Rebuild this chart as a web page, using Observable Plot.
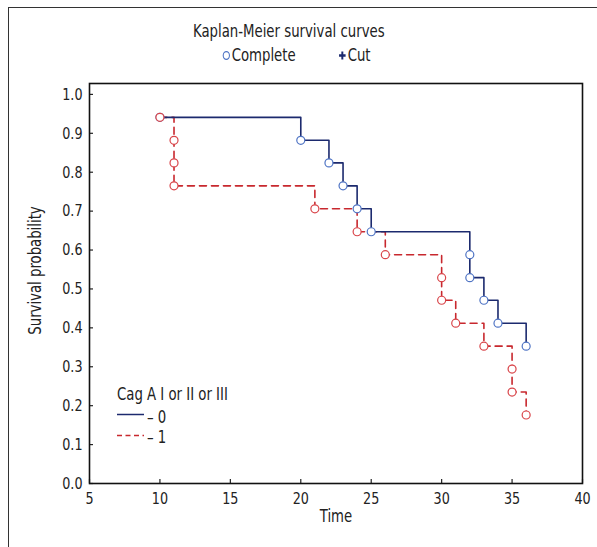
<!DOCTYPE html>
<html><head><meta charset="utf-8">
<script src="https://cdn.jsdelivr.net/npm/d3@7"></script>
<script src="https://cdn.jsdelivr.net/npm/@observablehq/plot@0.6"></script>
<style>
body{margin:0;background:#fff;font-family:"DejaVu Sans Condensed","DejaVu Sans",sans-serif;color:#222;}
#wrap{position:relative;width:597px;height:547px;overflow:hidden;}
.border{position:absolute;left:8px;top:7px;width:620px;height:600px;border-left:1.5px solid #333;border-top:1.5px solid #333;}
.t{position:absolute;font-size:18px;white-space:nowrap;line-height:1;transform:scaleX(0.82);transform-origin:0 0;}
.s{position:absolute;}
#chart{position:absolute;left:0;top:70px;}
</style></head>
<body><div id="wrap">
<div class="border"></div>
<div id="chart"></div>
<div class="t" style="left:193px;top:22px;">Kaplan-Meier survival curves</div>
<div class="t" style="left:221px;top:46px;"><svg width="13" height="13" style="vertical-align:-1px"><circle cx="6.5" cy="6.5" r="3.8" fill="none" stroke="#4f74c4" stroke-width="1.3"/></svg>Complete</div>
<div class="t" style="left:337px;top:46px;"><svg width="13" height="13" style="vertical-align:-1px"><path d="M6.5,2.5V10.5M2.5,6.5H10.5" stroke="#1c2a6e" stroke-width="2.4"/></svg>Cut</div>
<div class="t" style="left:117px;top:385px;">Cag A I or II or III</div>
<svg class="s" style="left:117px;top:413px;" width="27" height="3"><line x1="0" y1="1.5" x2="27" y2="1.5" stroke="#1c2a6e" stroke-width="1.5"/></svg>
<div class="t" style="left:147px;top:408px;">– 0</div>
<svg class="s" style="left:117px;top:434px;" width="27" height="3"><line x1="0" y1="1.5" x2="27" y2="1.5" stroke="#c8282e" stroke-width="1.5" stroke-dasharray="5,3.5"/></svg>
<div class="t" style="left:147px;top:428px;">– 1</div>
</div>
<script>
const timeBlue = [10,20,22,23,24,25,32,32,33,34,36];
const survBlue = [0.941,0.882,0.824,0.765,0.706,0.647,0.588,0.529,0.471,0.412,0.353];
const timeRed = [10,11,11,11,21,24,26,30,30,31,33,35,35,36];
const survRed = [0.941,0.882,0.824,0.765,0.706,0.647,0.588,0.529,0.471,0.412,0.353,0.294,0.235,0.176];
const xTicks = [5,10,15,20,25,30,35,40];
const yTicks = [0,0.1,0.2,0.3,0.4,0.5,0.6,0.7,0.8,0.9,1.0];

const blue = timeBlue.map((t,i)=>({t, s:survBlue[i]}));
const red = timeRed.map((t,i)=>({t, s:survRed[i]}));

const font = '"DejaVu Sans Condensed","DejaVu Sans",sans-serif';
const chart = Plot.plot({
  width: 597,
  height: 477,
  marginTop: 13,
  marginBottom: 64,
  marginLeft: 89,
  marginRight: 15,
  style: {fontFamily: font, fontSize: "16.5px", color: "#222", background: "transparent"},
  x: {domain: [5,40]},
  y: {domain: [0,1.028]},
  marks: [
    Plot.axisX({ticks: xTicks, tickSize: -4, tickPadding: 13, label: null, tickFormat: d3.format("d"), strokeWidth: 1.2}),
    Plot.axisY({ticks: yTicks, tickSize: -4, tickPadding: 11, label: null, tickFormat: d3.format(".1f"), strokeWidth: 1.2}),
    Plot.text(["Time"], {frameAnchor: "bottom", dy: 38, fontSize: 18}),
    Plot.text(["Survival probability"], {frameAnchor: "left", textAnchor: "middle", rotate: -90, dx: -54, dy: -13, fontSize: 18}),
    Plot.line(red, {x: "t", y: "s", curve: "step-after", stroke: "#c8282e", strokeWidth: 1.6, strokeDasharray: "7,5"}),
    Plot.line(blue, {x: "t", y: "s", curve: "step-after", stroke: "#1c2a6e", strokeWidth: 1.6}),
    Plot.dot(blue, {x: "t", y: "s", r: 4, stroke: "#4f74c4", fill: "white", strokeWidth: 1.2}),
    Plot.dot(red, {x: "t", y: "s", r: 4, stroke: "#d9454a", fill: "white", strokeWidth: 1.2}),
    Plot.frame({stroke: "#111", strokeWidth: 1.6})
  ]
});
// condense text horizontally to mimic the narrow original typeface
function condense(sel, k) {
  chart.querySelectorAll(sel).forEach(el => {
    const tr = el.getAttribute("transform");
    if (tr) el.setAttribute("transform", tr + ` scale(${k},1)`);
  });
}
condense('g[aria-label="x-axis tick label"] text', 0.86);
condense('g[aria-label="y-axis tick label"] text', 0.86);
condense('g[aria-label="text"] text', 0.82);
document.getElementById("chart").appendChild(chart);
</script>
</body></html>
